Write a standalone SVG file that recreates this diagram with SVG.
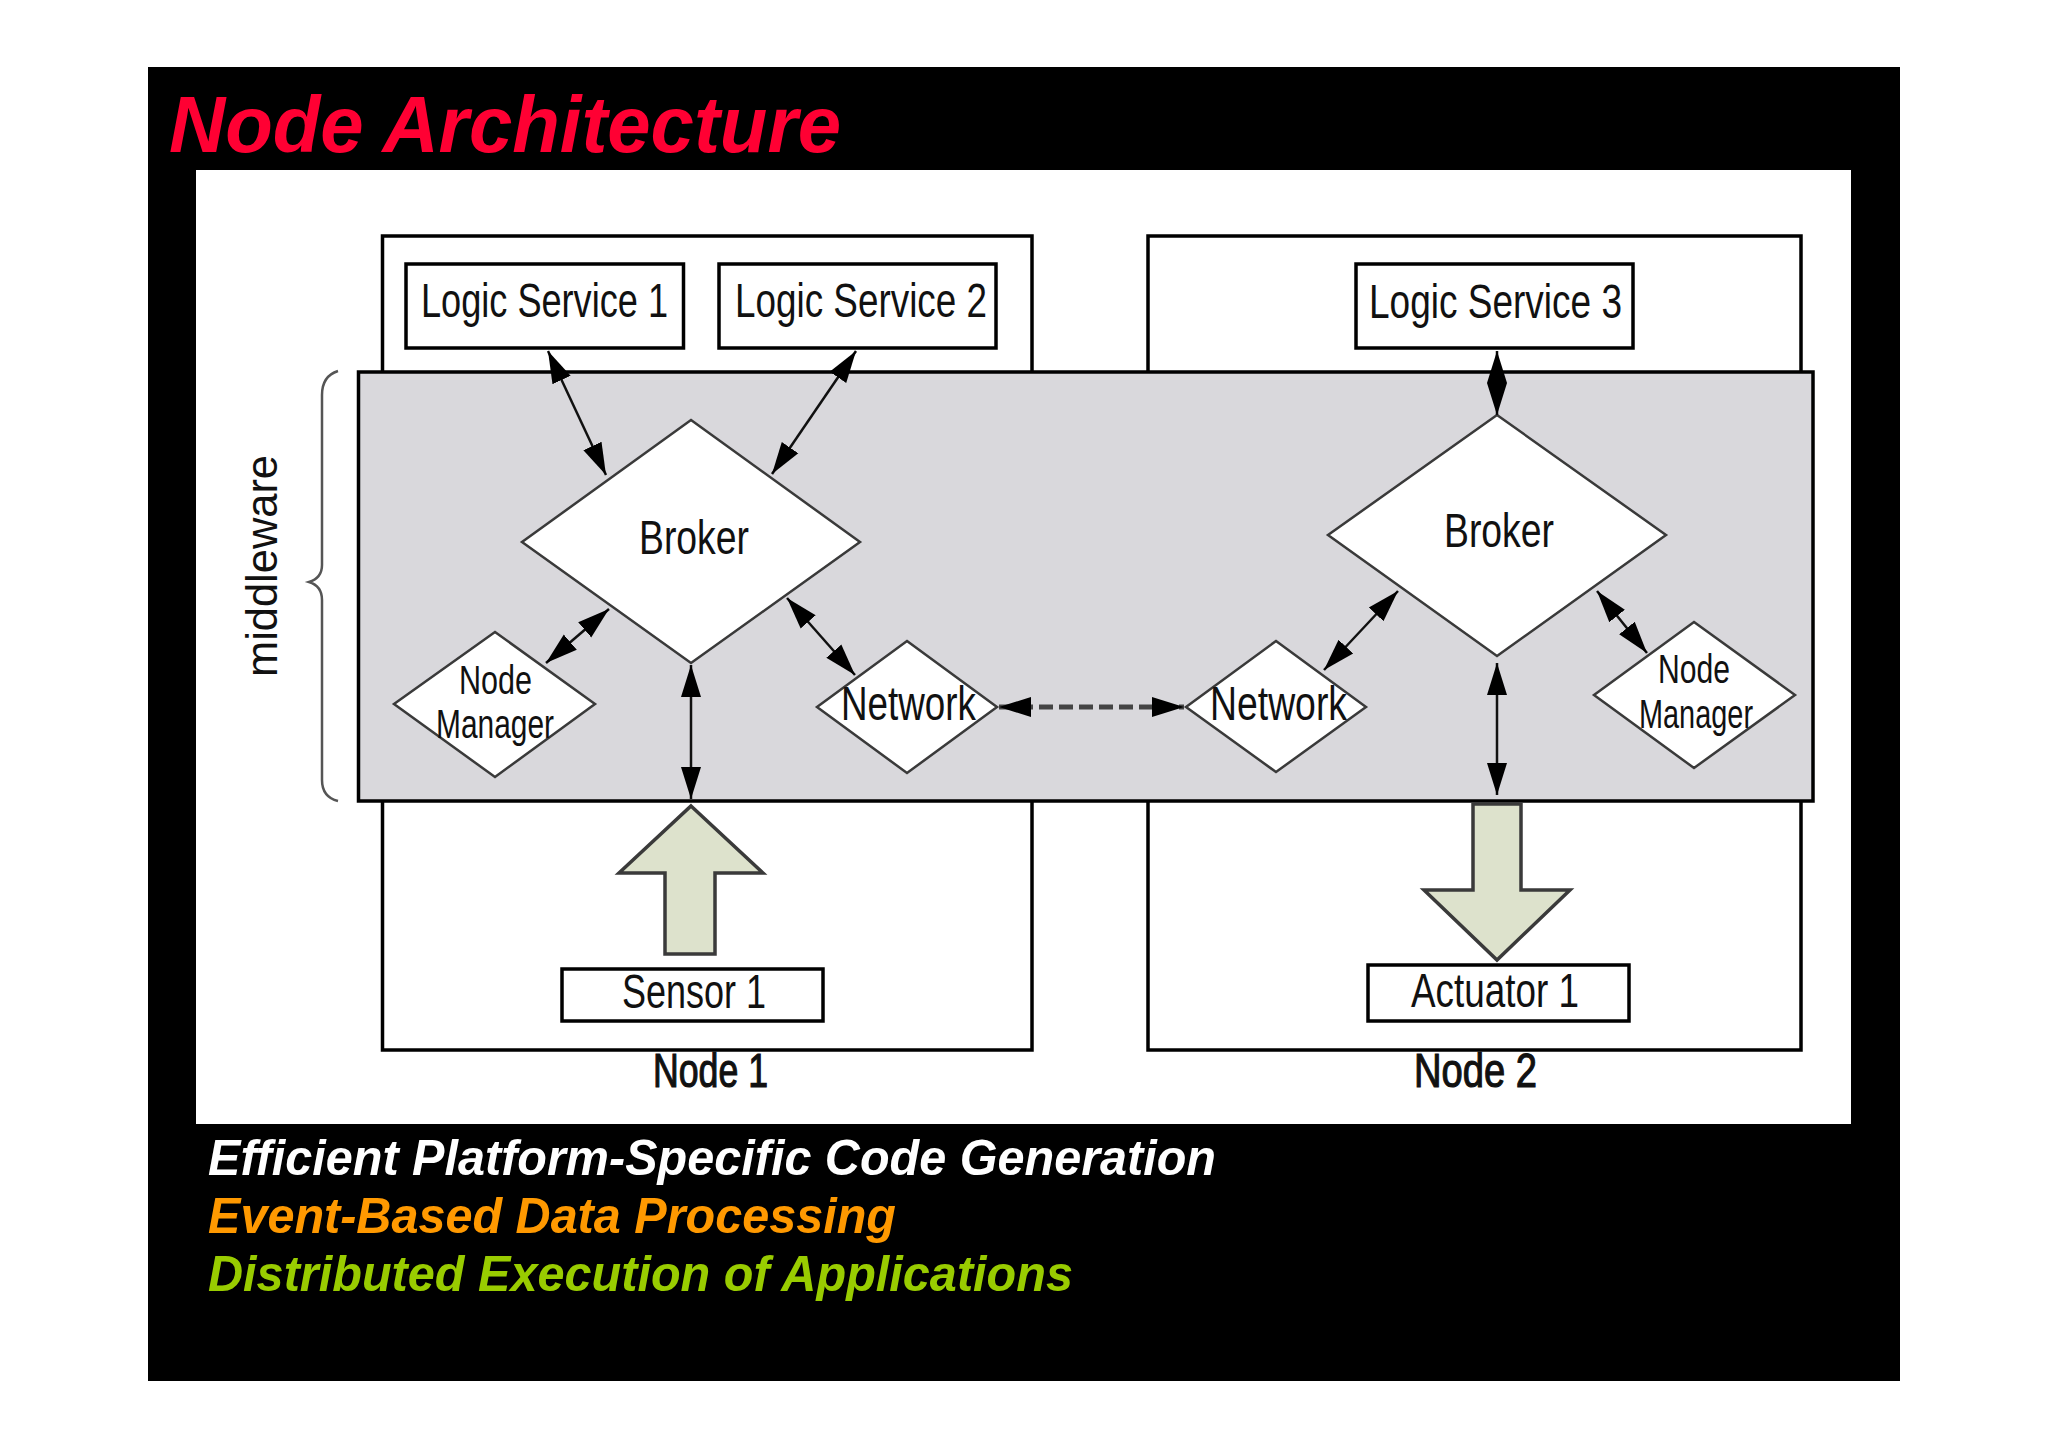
<svg xmlns="http://www.w3.org/2000/svg" width="2048" height="1447" viewBox="0 0 2048 1447">
<style>
text{font-family:"Liberation Sans",Arial,sans-serif;fill:#111}
.box{fill:#fff;stroke:#000;stroke-width:3.5}
.dia{fill:#fff;stroke:#3a3a3a;stroke-width:2.5}
.big{font-size:48px}
.small{font-size:40px}
.head{font-weight:bold;font-style:italic;font-size:50px}
.con{fill:none;stroke:#111;stroke-width:2.5;marker-start:url(#ah);marker-end:url(#ah)}
.arrow{fill:#dde2cc;stroke:#3a3a3a;stroke-width:3.5}
</style>
<defs>
<marker id="ah" markerUnits="userSpaceOnUse" markerWidth="34" markerHeight="24" refX="32" refY="12" orient="auto-start-reverse">
<path d="M0 2 L32 12 L0 22 Z" fill="#000"/>
</marker>
</defs>
<rect width="2048" height="1447" fill="#fff"/>
<rect id="slide" x="148" y="67" width="1752" height="1314" fill="#000"/>
<text id="title" x="169" y="152" font-size="80" font-weight="bold" font-style="italic" style="fill:#ff0033" textLength="672" lengthAdjust="spacingAndGlyphs">Node Architecture</text>
<rect id="panel" x="196" y="170" width="1655" height="954" fill="#fff"/>
<g id="node1"><rect class="box" x="382.500" y="236" width="649.500" height="814"/>
<text class="big" x="653" y="1087" textLength="115" lengthAdjust="spacingAndGlyphs" stroke="#111" stroke-width="1.2">Node 1</text></g>
<g id="node2"><rect class="box" x="1148" y="236" width="653" height="814"/>
<text class="big" x="1414" y="1087" textLength="123" lengthAdjust="spacingAndGlyphs" stroke="#111" stroke-width="1.2">Node 2</text></g>
<g id="middleware"><rect x="358.500" y="372" width="1454.500" height="429" fill="#d9d8dc" stroke="#000" stroke-width="3.500"/>
<path d="M338 371 Q322 376 322 395 V565 Q322 578 309 582 Q322 586 322 600 V780 Q322 797 338 801" fill="none" stroke="#555" stroke-width="2.500"/>
<text transform="translate(277 677) rotate(-90)" font-size="44" textLength="222" lengthAdjust="spacingAndGlyphs">middleware</text></g>
<g id="logic1"><rect class="box" x="406" y="264" width="277.500" height="84"/><text class="big" x="421" y="317" textLength="247" lengthAdjust="spacingAndGlyphs">Logic Service 1</text></g>
<g id="logic2"><rect class="box" x="719" y="264" width="277" height="84"/><text class="big" x="735" y="317" textLength="252" lengthAdjust="spacingAndGlyphs">Logic Service 2</text></g>
<g id="logic3"><rect class="box" x="1356" y="264" width="277" height="84"/><text class="big" x="1369" y="318" textLength="253" lengthAdjust="spacingAndGlyphs">Logic Service 3</text></g>
<g id="broker1"><path class="dia" d="M691 420 L860 542 L691 663 L522 542 Z"/><text class="big" x="639" y="554" textLength="110" lengthAdjust="spacingAndGlyphs">Broker</text></g>
<g id="broker2"><path class="dia" d="M1497 415 L1666 535 L1497 656 L1328 535 Z"/><text class="big" x="1444" y="547" textLength="110" lengthAdjust="spacingAndGlyphs">Broker</text></g>
<g id="nodemanager1"><path class="dia" d="M495 632 L595 704 L495 777 L394 704 Z"/><text class="small" x="459" y="694" textLength="73" lengthAdjust="spacingAndGlyphs">Node</text><text class="small" x="436" y="738" textLength="118" lengthAdjust="spacingAndGlyphs">Manager</text></g>
<g id="network1"><path class="dia" d="M907 641 L997 707 L907 773 L817 707 Z"/><text class="big" x="841" y="720" textLength="135" lengthAdjust="spacingAndGlyphs">Network</text></g>
<g id="network2"><path class="dia" d="M1276 641 L1366 707 L1276 772 L1186 707 Z"/><text class="big" x="1210" y="720" textLength="137" lengthAdjust="spacingAndGlyphs">Network</text></g>
<g id="nodemanager2"><path class="dia" d="M1694 622 L1795 695 L1694 768 L1594 695 Z"/><text class="small" x="1658" y="683" textLength="72" lengthAdjust="spacingAndGlyphs">Node</text><text class="small" x="1639" y="728" textLength="114" lengthAdjust="spacingAndGlyphs">Manager</text></g>
<g id="sensor1"><rect class="box" x="562" y="969" width="261" height="52"/><text class="big" x="622" y="1008" textLength="144" lengthAdjust="spacingAndGlyphs">Sensor 1</text></g>
<g id="actuator1"><rect class="box" x="1368" y="965" width="261" height="56"/><text class="big" x="1411" y="1007" textLength="168" lengthAdjust="spacingAndGlyphs">Actuator 1</text></g>
<g id="arrow-up"><path class="arrow" d="M691 806 L763 873 H715 V954 H665 V873 H619 Z"/></g>
<g id="arrow-down"><path class="arrow" d="M1473 804 H1521 V890 H1570 L1497 960 L1424 890 H1473 Z"/></g>
<g id="connectors">
<line class="con" x1="548" y1="351" x2="606" y2="475"/>
<line class="con" x1="856" y1="351" x2="772" y2="474"/>
<line class="con" x1="691" y1="665" x2="691" y2="799"/>
<line class="con" x1="546" y1="663" x2="609" y2="609"/>
<line class="con" x1="787" y1="598" x2="855" y2="675"/>
<line class="con" x1="999" y1="707" x2="1184" y2="707" stroke-dasharray="14 6" style="stroke:#444;stroke-width:5"/>
<line class="con" x1="1497" y1="351" x2="1497" y2="415"/>
<line class="con" x1="1324" y1="670" x2="1398" y2="591"/>
<line class="con" x1="1597" y1="591" x2="1647" y2="653"/>
<line class="con" x1="1497" y1="663" x2="1497" y2="795"/>
</g>
<g id="bullets">
<text class="head" x="208" y="1175" style="fill:#fff" textLength="1008" lengthAdjust="spacingAndGlyphs">Efficient Platform-Specific Code Generation</text>
<text class="head" x="208" y="1233" style="fill:#ff9900" textLength="688" lengthAdjust="spacingAndGlyphs">Event-Based Data Processing</text>
<text class="head" x="208" y="1291" style="fill:#99cc00" textLength="865" lengthAdjust="spacingAndGlyphs">Distributed Execution of Applications</text>
</g>
</svg>
